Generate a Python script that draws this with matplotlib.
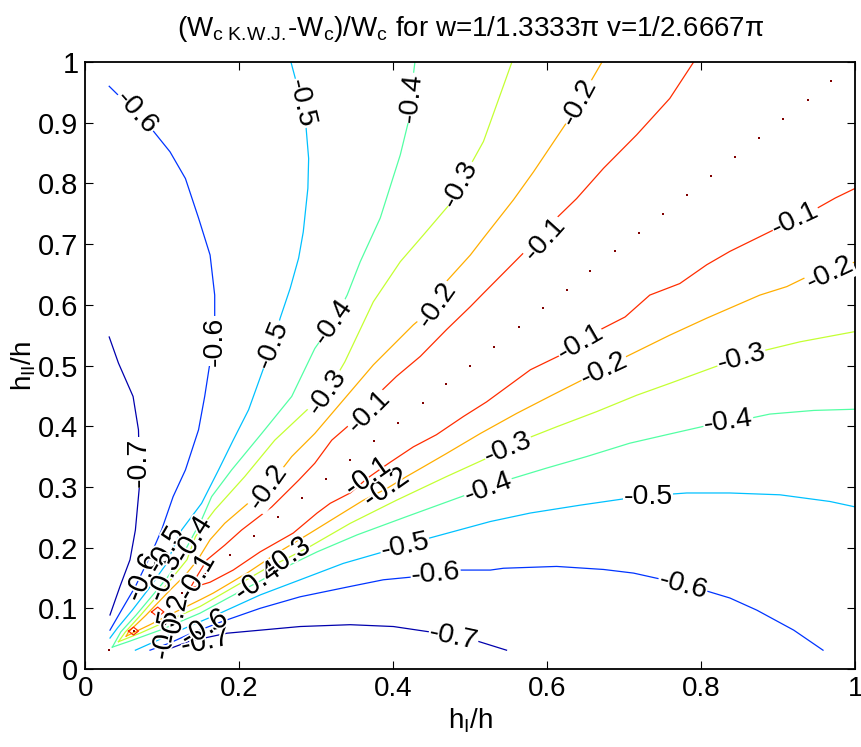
import matplotlib
matplotlib.use("Agg")
import matplotlib.pyplot as plt
from matplotlib import colors, patheffects

# contour branches (h_I/h, h_II/h)
m07_up_x = [0.031, 0.043, 0.062, 0.069, 0.070, 0.070, 0.065, 0.058, 0.045, 0.032]
m07_up_y = [0.547, 0.504, 0.449, 0.394, 0.344, 0.298, 0.229, 0.180, 0.136, 0.089]
m07_lo_x = [0.104, 0.136, 0.184, 0.279, 0.344, 0.400, 0.448, 0.478, 0.504, 0.547]
m07_lo_y = [0.031, 0.046, 0.059, 0.070, 0.073, 0.070, 0.061, 0.054, 0.048, 0.031]

m06_up_x = [0.031, 0.047, 0.084, 0.110, 0.130, 0.147, 0.162, 0.168, 0.168, 0.166, 0.162, 0.155,
            0.147, 0.130, 0.114, 0.099, 0.086, 0.065, 0.047, 0.032]
m06_up_y = [0.960, 0.940, 0.893, 0.852, 0.808, 0.743, 0.682, 0.616, 0.578, 0.542, 0.506, 0.449,
            0.394, 0.328, 0.284, 0.229, 0.191, 0.136, 0.097, 0.064]
m06_lo_x = [0.084, 0.110, 0.136, 0.175, 0.227, 0.279, 0.344, 0.387, 0.428, 0.456, 0.482, 0.526,
            0.543, 0.612, 0.673, 0.712, 0.751, 0.776, 0.803, 0.837, 0.872, 0.920, 0.958]
m06_lo_y = [0.031, 0.043, 0.058, 0.077, 0.100, 0.119, 0.136, 0.147, 0.152, 0.157, 0.163, 0.163,
            0.166, 0.169, 0.164, 0.158, 0.147, 0.138, 0.130, 0.117, 0.097, 0.064, 0.031]

m05_up_x = [0.267, 0.275, 0.286, 0.290, 0.289, 0.283, 0.277, 0.266, 0.253, 0.243, 0.233,
            0.212, 0.192, 0.173, 0.151, 0.125, 0.104, 0.081, 0.061, 0.042, 0.032]
m05_up_y = [1.000, 0.962, 0.902, 0.841, 0.792, 0.720, 0.677, 0.627, 0.578, 0.534, 0.501,
            0.427, 0.377, 0.328, 0.273, 0.229, 0.171, 0.130, 0.097, 0.068, 0.051]
m05_lo_x = [0.065, 0.104, 0.136, 0.175, 0.227, 0.279, 0.335, 0.387, 0.415, 0.439, 0.526,
            0.578, 0.643, 0.703, 0.731, 0.759, 0.781, 0.837, 0.902, 0.967, 1.000]
m05_lo_y = [0.031, 0.053, 0.071, 0.092, 0.122, 0.147, 0.174, 0.193, 0.203, 0.213, 0.243,
            0.257, 0.270, 0.281, 0.284, 0.288, 0.290, 0.290, 0.287, 0.276, 0.267]

m04_up_x = [0.428, 0.426, 0.423, 0.420, 0.409, 0.383, 0.357, 0.340, 0.322, 0.298, 0.268,
            0.229, 0.190, 0.164, 0.151, 0.137, 0.123, 0.106, 0.091, 0.066, 0.046, 0.035]
m04_up_y = [1.000, 0.979, 0.941, 0.904, 0.847, 0.743, 0.671, 0.616, 0.572, 0.528, 0.449,
            0.388, 0.328, 0.284, 0.246, 0.213, 0.180, 0.150, 0.127, 0.089, 0.061, 0.036]
m04_lo_x = [1.000, 0.946, 0.889, 0.863, 0.835, 0.807, 0.755, 0.707, 0.651, 0.599, 0.547, 0.523,
            0.495, 0.417, 0.353, 0.301, 0.257, 0.224, 0.197, 0.149, 0.097, 0.058, 0.035]
m04_lo_y = [0.428, 0.426, 0.420, 0.413, 0.407, 0.401, 0.386, 0.372, 0.350, 0.331, 0.311, 0.299,
            0.287, 0.251, 0.221, 0.193, 0.166, 0.143, 0.125, 0.092, 0.064, 0.046, 0.036]

m03_up_x = [0.554, 0.545, 0.517, 0.500, 0.487, 0.474, 0.439, 0.409, 0.374, 0.337, 0.314,
            0.288, 0.246, 0.207, 0.168, 0.156, 0.143, 0.132, 0.100, 0.072, 0.052, 0.043]
m03_up_y = [1.000, 0.968, 0.869, 0.830, 0.799, 0.767, 0.715, 0.671, 0.605, 0.506, 0.456,
            0.427, 0.377, 0.317, 0.262, 0.242, 0.218, 0.180, 0.130, 0.089, 0.061, 0.045]
m03_lo_x = [1.000, 0.928, 0.876, 0.852, 0.818, 0.760, 0.716, 0.664, 0.612, 0.578, 0.549, 0.521,
            0.469, 0.404, 0.344, 0.292, 0.263, 0.231, 0.201, 0.149, 0.110, 0.071, 0.043]
m03_lo_y = [0.556, 0.539, 0.523, 0.512, 0.498, 0.471, 0.451, 0.424, 0.399, 0.382, 0.364, 0.347,
            0.317, 0.278, 0.240, 0.202, 0.183, 0.163, 0.141, 0.103, 0.081, 0.059, 0.045]

m02_up_x = [0.671, 0.655, 0.641, 0.627, 0.582, 0.556, 0.517, 0.500, 0.465, 0.457, 0.426, 0.374, 0.337,
            0.298, 0.268, 0.251, 0.237, 0.214, 0.181, 0.162, 0.146, 0.130, 0.110, 0.079, 0.056, 0.053]
m02_up_y = [1.000, 0.965, 0.934, 0.904, 0.819, 0.773, 0.710, 0.682, 0.633, 0.600, 0.567, 0.501, 0.446,
            0.388, 0.350, 0.322, 0.300, 0.276, 0.240, 0.213, 0.180, 0.155, 0.130, 0.089, 0.061, 0.054]
m02_lo_x = [1.000, 0.967, 0.937, 0.911, 0.876, 0.807, 0.759, 0.703, 0.674, 0.645, 0.606, 0.560, 0.513, 0.469,
            0.439, 0.417, 0.391, 0.361, 0.292, 0.249, 0.210, 0.166, 0.149, 0.117, 0.084, 0.061, 0.053]
m02_lo_y = [0.671, 0.652, 0.646, 0.630, 0.616, 0.578, 0.550, 0.515, 0.493, 0.476, 0.451, 0.421, 0.388, 0.355,
            0.333, 0.317, 0.297, 0.278, 0.224, 0.191, 0.158, 0.125, 0.114, 0.094, 0.073, 0.059, 0.054]

m01_up_x = [0.790, 0.759, 0.716, 0.673, 0.638, 0.612, 0.592, 0.571, 0.517, 0.500, 0.469, 0.435, 0.404,
            0.381, 0.359, 0.340, 0.320, 0.298, 0.277, 0.242, 0.203, 0.181, 0.158, 0.146, 0.136]
m01_up_y = [1.000, 0.940, 0.880, 0.825, 0.775, 0.743, 0.715, 0.688, 0.619, 0.597, 0.559, 0.515, 0.482,
            0.454, 0.427, 0.399, 0.377, 0.339, 0.311, 0.267, 0.229, 0.204, 0.180, 0.155, 0.133]
m01_lo_x = [1.000, 0.974, 0.946, 0.922, 0.898, 0.837, 0.807, 0.772, 0.733, 0.701, 0.664, 0.643, 0.617, 0.578,
            0.521, 0.491, 0.456, 0.426, 0.394, 0.367, 0.344, 0.318, 0.301, 0.270, 0.227, 0.192, 0.162, 0.136]
m01_lo_y = [0.792, 0.776, 0.756, 0.741, 0.726, 0.688, 0.666, 0.635, 0.616, 0.580, 0.556, 0.537, 0.517, 0.493,
            0.440, 0.416, 0.386, 0.366, 0.339, 0.315, 0.290, 0.273, 0.257, 0.224, 0.193, 0.163, 0.143, 0.133]

# small closed -0.1 loops close to the origin
loop1_x = [0.056, 0.0625, 0.069, 0.0625, 0.056]
loop1_y = [0.0625, 0.069, 0.0625, 0.056, 0.0625]
loop2_x = [0.086, 0.094, 0.102, 0.094, 0.086]
loop2_y = [0.094, 0.102, 0.094, 0.086, 0.094]

# level 0 collapses to single grid points on the diagonal
zero_x = [0.031, 0.063, 0.094, 0.125, 0.156, 0.188, 0.219, 0.250, 0.281, 0.313, 0.344,
          0.375, 0.406, 0.438, 0.469, 0.500, 0.531, 0.563, 0.594, 0.625, 0.656, 0.688,
          0.719, 0.750, 0.781, 0.813, 0.844, 0.875, 0.906, 0.938, 0.969]
zero_y = zero_x

branches = [
    (-0.7, m07_up_x, m07_up_y), (-0.7, m07_lo_x, m07_lo_y),
    (-0.6, m06_up_x, m06_up_y), (-0.6, m06_lo_x, m06_lo_y),
    (-0.5, m05_up_x, m05_up_y), (-0.5, m05_lo_x, m05_lo_y),
    (-0.4, m04_up_x, m04_up_y), (-0.4, m04_lo_x, m04_lo_y),
    (-0.3, m03_up_x, m03_up_y), (-0.3, m03_lo_x, m03_lo_y),
    (-0.2, m02_up_x, m02_up_y), (-0.2, m02_lo_x, m02_lo_y),
    (-0.1, m01_up_x, m01_up_y), (-0.1, m01_lo_x, m01_lo_y),
    (-0.1, loop1_x, loop1_y), (-0.1, loop2_x, loop2_y),
]

# inline labels: level, x, y, angle, clear background behind text
label_lev = [-0.7, -0.7, -0.7,
             -0.6, -0.6, -0.6, -0.6, -0.6, -0.6,
             -0.5, -0.5, -0.5, -0.5, -0.5, -0.5,
             -0.4, -0.4, -0.4, -0.4, -0.4, -0.4,
             -0.3, -0.3, -0.3, -0.3, -0.3, -0.3,
             -0.2, -0.2, -0.2, -0.2, -0.2, -0.2, -0.2,
             -0.1, -0.1, -0.1, -0.1, -0.1, -0.1]
label_x = [0.070, 0.478, 0.156,
           0.066, 0.168, 0.455, 0.776, 0.075, 0.155,
           0.280, 0.243, 0.415, 0.731, 0.105, 0.105,
           0.423, 0.322, 0.835, 0.523, 0.140, 0.224,
           0.487, 0.314, 0.852, 0.549, 0.104, 0.263,
           0.641, 0.457, 0.237, 0.967, 0.674, 0.391, 0.117,
           0.597, 0.368, 0.145, 0.922, 0.643, 0.367]
label_y = [0.340, 0.052, 0.044,
           0.917, 0.540, 0.157, 0.138, 0.150, 0.066,
           0.932, 0.534, 0.203, 0.284, 0.195, 0.055,
           0.941, 0.572, 0.407, 0.299, 0.212, 0.143,
           0.799, 0.456, 0.512, 0.364, 0.150, 0.183,
           0.934, 0.600, 0.300, 0.652, 0.493, 0.297, 0.081,
           0.708, 0.424, 0.150, 0.741, 0.537, 0.315]
label_rot = [90, -12, 12,
             -48, 90, 5, -15, 68, 30,
             -77, 68, 12, 0, 60, 80,
             84, 55, 8, 20, 58, 35,
             62, 55, 15, 22, 68, 35,
             62, 55, 55, 25, 25, 35, 78,
             48, 45, 60, 25, 30, 35]
label_clear = [True, True, False,
               True, True, True, True, False, False,
               True, True, True, True, False, False,
               True, True, True, True, False, False,
               True, True, True, True, False, False,
               True, True, True, True, True, False, False,
               True, True, False, True, True, False]

x_ticks = [0, 0.2, 0.4, 0.6, 0.8, 1]
x_tick_labels = ["0", "0.2", "0.4", "0.6", "0.8", "1"]
y_ticks = [0, 0.1, 0.2, 0.3, 0.4, 0.5, 0.6, 0.7, 0.8, 0.9, 1]
y_tick_labels = ["0", "0.1", "0.2", "0.3", "0.4", "0.5", "0.6", "0.7", "0.8", "0.9", "1"]

plt.rcParams['font.family'] = ['Liberation Sans', 'DejaVu Sans']
plt.rcParams['mathtext.fontset'] = 'custom'
plt.rcParams['mathtext.rm'] = 'Liberation Sans'
plt.rcParams['mathtext.it'] = 'Liberation Sans:italic'
plt.rcParams['mathtext.default'] = 'regular'

fig = plt.figure(figsize=(8.62, 7.47), dpi=100)
ax = fig.add_axes([0.099, 0.1044, 0.8933, 0.8126])

cmap = plt.cm.jet
norm = colors.Normalize(vmin=-0.73, vmax=0.0)

for lev, xs, ys in branches:
    ax.plot(xs, ys, color=cmap(norm(lev)), lw=0.9)

ax.plot(zero_x, zero_y, linestyle='none', marker='s', ms=1.6, mew=0,
        color=cmap(norm(0.0)))

for lev, x, y, rot, clear in zip(label_lev, label_x, label_y, label_rot, label_clear):
    t = ax.text(x, y, "%.1f" % lev, fontsize=20.5, rotation=rot, rotation_mode='anchor',
                ha='center', va='center', zorder=5)
    if clear:
        t.set_bbox(dict(facecolor='white', edgecolor='none', pad=0.5))
    else:
        t.set_path_effects([patheffects.withStroke(linewidth=2.5, foreground='white')])

ax.set_xlim(0, 1)
ax.set_ylim(0, 1)
ax.set_xticks(x_ticks)
ax.set_xticklabels(x_tick_labels)
ax.set_yticks(y_ticks)
ax.set_yticklabels(y_tick_labels)
ax.tick_params(direction='in', length=6, width=0.8, top=True, right=True, pad=5)
ax.tick_params(axis='x', labelsize=20)
ax.tick_params(axis='y', labelsize=21)
for s in ax.spines.values():
    s.set_linewidth(1.3)

ax.set_title(r"(W$_{\mathrm{c\ K.\!W.\!J.\!}}$-W$_c$)/W$_c$ for w=1/1.3333π v=1/2.6667π",
             fontsize=20, pad=19)
ax.set_xlabel(r"h$_I$/h", fontsize=20)
ax.set_ylabel(r"h$_{II}$/h", fontsize=20)
ax.xaxis.set_label_coords(0.5, -0.062)
ax.yaxis.set_label_coords(-0.062, 0.5)

fig.savefig("out.png", dpi=100)
